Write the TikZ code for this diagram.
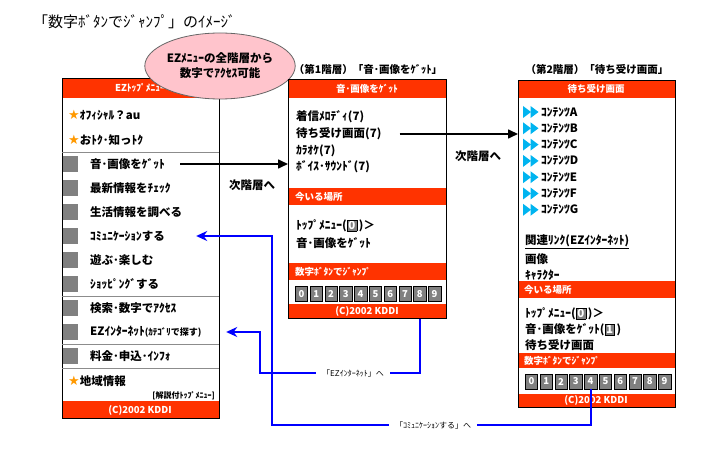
\documentclass[tikz,border=0pt]{standalone}
\usepackage{fontspec}
\setmainfont{Noto Sans CJK JP}
\newfontfamily\symfont{DejaVu Sans}
\usetikzlibrary{arrows.meta,shapes.geometric}
\definecolor{EZRed}{RGB}{255,51,0}
\definecolor{EZGray}{RGB}{128,128,128}
\definecolor{EZCyan}{RGB}{0,180,240}
\definecolor{EZStar}{RGB}{255,153,0}
\definecolor{EZPink}{RGB}{255,196,204}
\definecolor{EZBlue}{RGB}{0,0,255}
\newcommand{\ezstar}{{\symfont\fontsize{13}{13}\selectfont\textcolor{EZStar}{★}}}
\newcommand{\ezkey}[1]{{\setlength{\fboxsep}{1.2pt}\fcolorbox{black}{EZGray}{\textcolor{white}{#1}}}}

\begin{document}
\begin{tikzpicture}[x=1pt,y=-1pt,
  txt/.style={anchor=west,inner sep=0,font=\fontsize{11.5}{12}\selectfont\bfseries},
  head/.style={inner sep=0,font=\fontsize{10.5}{12}\selectfont\bfseries},
  bartxt/.style={inner sep=0,text=white,font=\fontsize{9.5}{10}\selectfont\bfseries},
  panel/.style n args={2}{draw=black,line width=1.2pt,anchor=north west,inner sep=0,minimum width=#1,minimum height=#2},
  sep/.style={draw=black!45,line width=0.8pt},
  key/.style={draw=black,fill=EZGray,text=white,inner sep=0,minimum width=12.5,minimum height=15,font=\fontsize{9.5}{10}\selectfont\bfseries},
  play/.pic={\fill[EZCyan] (0,-6) -- (8,0) -- (0,6) -- cycle;
             \fill[EZCyan] (7.5,-6) -- (15.5,0) -- (7.5,6) -- cycle;},
  nextarrow/.style={line width=1.6pt,-{Triangle[length=10pt,width=9pt]}},
  bluelink/.style={draw=EZBlue,line width=2pt,-{Stealth[length=11pt,width=10pt]}},
  bluelbl/.style={fill=white,inner xsep=6pt,inner ysep=1pt,font=\fontsize{8}{9}\selectfont}]
\useasboundingbox (0,0) rectangle (720,454);
\node[anchor=west,inner sep=0,font=\fontsize{15}{16}\selectfont] (title) at (33,22) {「数字ﾎﾞﾀﾝでｼﾞｬﾝﾌﾟ」のｲﾒｰｼﾞ};

% EZ top menu
\fill[EZRed] (62,78) rectangle (219,98);
\fill[EZRed] (62,401) rectangle (219,418);
\node[panel={157}{340}] (lbox) at (62,78) {};
\node[bartxt] at (140,88) {EZﾄｯﾌﾟﾒﾆｭｰ};
\node[txt] (star1) at (68,115) {\ezstar ｵﾌｨｼｬﾙ？au};
\node[txt] (star2) at (68,140) {\ezstar おﾄｸ･知っﾄｸ};
\foreach \y in {152,296,344,368}
  \draw[sep] (62,\y) -- (219,\y);
\foreach \y/\t [count=\i] in {164/音･画像をｹﾞｯﾄ,188/最新情報をﾁｪｯｸ,212/生活情報を調べる,
    236/ｺﾐｭﾆｹｰｼｮﾝする,260/遊ぶ･楽しむ,284/ｼｮｯﾋﾟﾝｸﾞする,308/検索･数字でｱｸｾｽ,
    332/{EZｲﾝﾀｰﾈｯﾄ{\fontsize{9}{10}\selectfont(ｶﾃｺﾞﾘで探す)}},356/料金･申込･ｲﾝﾌｫ} {
  \fill[EZGray] (63,\y-8) rectangle (78,\y+8);
  \node[txt] (top\i) at (90,\y) {\t};
}
\node[txt] (star3) at (68,381) {\ezstar 地域情報};
\node[anchor=east,inner sep=0,font=\fontsize{8}{9}\selectfont\bfseries] (guide) at (215,396) {[解説付ﾄｯﾌﾟﾒﾆｭｰ]};
\node[bartxt] at (140,410) {(C)2002 KDDI};

\node[ellipse,draw=black!60,line width=0.8pt,fill=EZPink,minimum width=140,minimum height=66,inner sep=0,
  align=center,font=\fontsize{11.5}{15}\selectfont\bfseries] (bubble) at (220,66) {EZﾒﾆｭｰの全階層から\\数字でｱｸｾｽ可能};

% 1st level
\node[head] (h1) at (368,70) {（第1階層）「音･画像をｹﾞｯﾄ」};
\fill[EZRed] (288,79) rectangle (446,98);
\fill[EZRed] (288,188) rectangle (446,205);
\fill[EZRed] (288,263) rectangle (446,280);
\fill[EZRed] (288,304) rectangle (446,318);
\node[panel={158}{239}] (mbox) at (288,79) {};
\node[bartxt] at (367,89) {音･画像をｹﾞｯﾄ};
\foreach \y/\t [count=\i] in {117/着信ﾒﾛﾃﾞｨ(7),134/待ち受け画面(7),151/ｶﾗｵｹ(7),167/ﾎﾞｲｽ･ｻｳﾝﾄﾞ(7)}
  \node[txt] (snd\i) at (296,\y) {\t};
\node[bartxt,anchor=west] at (295,196.5) {今いる場所};
\node[txt] (mpos1) at (296,226) {ﾄｯﾌﾟﾒﾆｭｰ(\ezkey{0}\,)＞};
\node[txt] (mpos2) at (296,243) {音･画像をｹﾞｯﾄ};
\node[bartxt,anchor=west] at (295,271.5) {数字ﾎﾞﾀﾝでｼﾞｬﾝﾌﾟ};
\foreach \d in {0,...,9}
  \node[key] (sk\d) at (301.4+\d*14.8,294) {\d};
\node[bartxt] at (367,311) {(C)2002 KDDI};

% 2nd level
\node[head] (h2) at (597,70) {（第2階層）「待ち受け画面」};
\fill[EZRed] (518,80) rectangle (675,98);
\fill[EZRed] (518,281) rectangle (675,298);
\fill[EZRed] (518,353) rectangle (675,368);
\fill[EZRed] (518,394) rectangle (675,407);
\node[panel={157}{327}] (wbox) at (518,80) {};
\node[bartxt] at (596,89) {待ち受け画面};
\foreach \c [count=\i from 0] in {A,B,C,D,E,F,G} {
  \pgfmathsetmacro\y{112+16.3*\i}
  \pic at (523,\y) {play};
  \node[txt] (wc\c) at (541,\y) {ｺﾝﾃﾝﾂ\c};
}
\node[txt] (link) at (525,242) {\underline{関連ﾘﾝｸ(EZｲﾝﾀｰﾈｯﾄ)}};
\node[txt] (pict) at (525,259) {画像};
\node[txt] (chara) at (525,275) {ｷｬﾗｸﾀｰ};
\node[bartxt,anchor=west] at (524,289.5) {今いる場所};
\node[txt] (wpos1) at (525,314) {ﾄｯﾌﾟﾒﾆｭｰ(\ezkey{0}\,)＞};
\node[txt] (wpos2) at (525,330) {音･画像をｹﾞｯﾄ(\ezkey{1}\,)};
\node[txt] (wpos3) at (525,345) {待ち受け画面};
\node[bartxt,anchor=west] at (524,360.5) {数字ﾎﾞﾀﾝでｼﾞｬﾝﾌﾟ};
\foreach \d in {0,...,9}
  \node[key] (wk\d) at (531.4+\d*14.8,381.5) {\d};
\node[bartxt] at (596,400.5) {(C)2002 KDDI};

% arrows
\draw[nextarrow] ([xshift=15pt]top1.east) -- (mbox.west |- top1);
\node[txt] (next1) at (229,185) {次階層へ};
\draw[nextarrow] ([xshift=18pt]snd2.east) -- (wbox.west |- snd2);
\node[txt] (next2) at (455,156) {次階層へ};

\coordinate (ezbend) at (260,373);
\coordinate (cmbend) at (272,425);
\draw[bluelink] (sk8 |- mbox.south) |- (ezbend) |- ([xshift=6pt]lbox.east |- top8);
\draw[bluelink] (wk4.south) |- (cmbend) |- ([xshift=-24pt]lbox.east |- top4);
\node[bluelbl] (ezlbl) at (353,373) {「EZｲﾝﾀｰﾈｯﾄ」へ};
\node[bluelbl] (cmlbl) at (433,425) {「ｺﾐｭﾆｹｰｼｮﾝする」へ};
\end{tikzpicture}
\end{document}
